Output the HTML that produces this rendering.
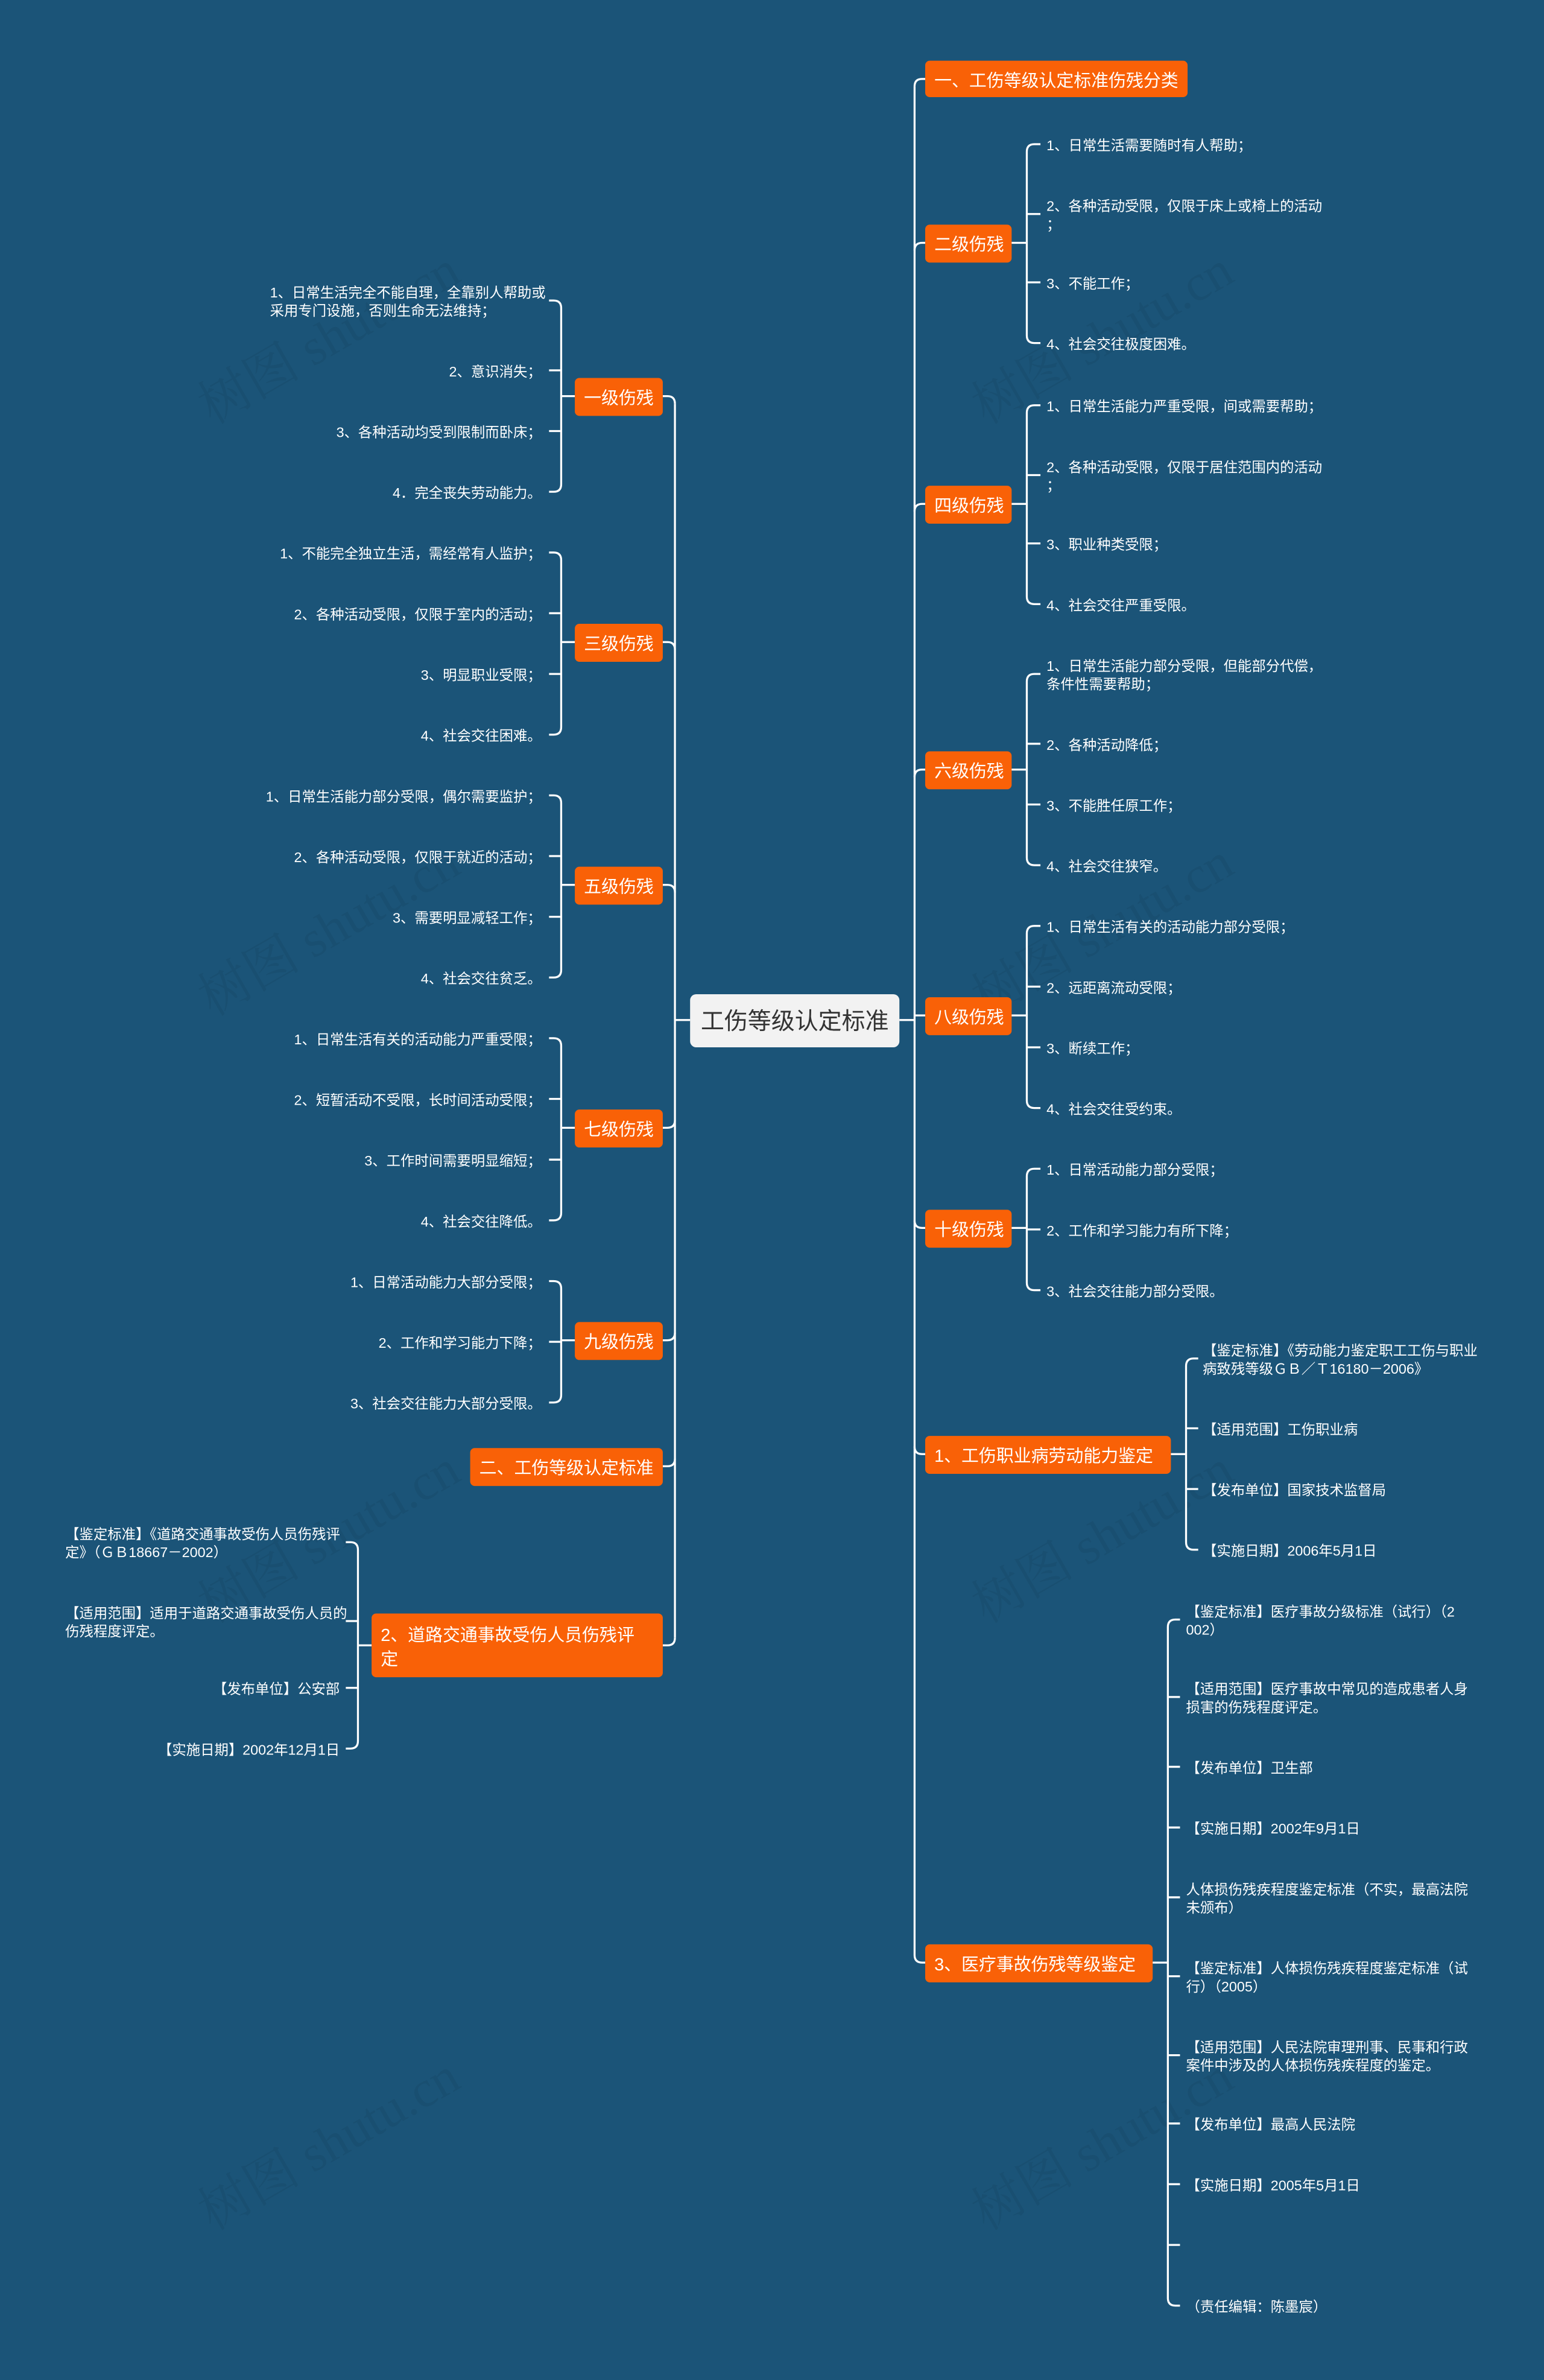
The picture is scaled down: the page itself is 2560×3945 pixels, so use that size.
<!DOCTYPE html>
<html><head><meta charset="utf-8"><style>
html,body{margin:0;padding:0;background:#1b5478;}
svg{display:block}
text{font-family:"Liberation Sans","Noto Sans CJK SC",sans-serif;}
.l{fill:#fff;font-size:9.3px;dominant-baseline:middle;transform:translateY(1.5px)}
.n{fill:#fff;font-size:11.5px;dominant-baseline:middle;transform:translateY(1px)}
.w{fill:rgba(0,0,0,0.05);font-size:34px;font-family:"Liberation Serif","Noto Serif CJK SC",serif}
path{fill:none;stroke:#fff;stroke-width:1.3}
rect.o{fill:#f96107}
</style></head><body>
<svg width="2560" height="3945" viewBox="0 0 1018 1568" preserveAspectRatio="none" xmlns="http://www.w3.org/2000/svg">
<rect width="1018" height="1568" fill="#1b5478"/>
<g class="wm">
<text class="w" x="140" y="280" transform="rotate(-30 140 280)">树图 shutu.cn</text>
<text class="w" x="650" y="280" transform="rotate(-30 650 280)">树图 shutu.cn</text>
<text class="w" x="140" y="670" transform="rotate(-30 140 670)">树图 shutu.cn</text>
<text class="w" x="650" y="670" transform="rotate(-30 650 670)">树图 shutu.cn</text>
<text class="w" x="140" y="1070" transform="rotate(-30 140 1070)">树图 shutu.cn</text>
<text class="w" x="650" y="1070" transform="rotate(-30 650 1070)">树图 shutu.cn</text>
<text class="w" x="140" y="1470" transform="rotate(-30 140 1470)">树图 shutu.cn</text>
<text class="w" x="650" y="1470" transform="rotate(-30 650 1470)">树图 shutu.cn</text>
</g>

<path d="M593,672 L603,672"/>
<path d="M603,57 L603,1288"/>
<path d="M603,57 Q603,52 608,52 L610,52"/>
<path d="M603,165 Q603,160 608,160 L610,160"/>
<path d="M603,337 Q603,332 608,332 L610,332"/>
<path d="M603,512 Q603,507 608,507 L610,507"/>
<path d="M603,669 L610,669"/>
<path d="M603,804 Q603,809 608,809 L610,809"/>
<path d="M603,953 Q603,958 608,958 L610,958"/>
<path d="M603,1288 Q603,1293 608,1293 L610,1293"/>

<path d="M455,672 L445,672"/>
<path d="M445,266 L445,1079"/>
<path d="M445,266 Q445,261 440,261 L437,261"/>
<path d="M445,428 Q445,423 440,423 L437,423"/>
<path d="M445,588 Q445,583 440,583 L437,583"/>
<path d="M445,738 Q445,743 440,743 L437,743"/>
<path d="M445,878 Q445,883 440,883 L437,883"/>
<path d="M445,961 Q445,966 440,966 L437,966"/>
<path d="M445,1079 Q445,1084 440,1084 L437,1084"/>

<rect x="455" y="655" width="138" height="35" rx="4" fill="#f2f2f2"/>
<text x="524" y="674" text-anchor="middle" style="font-size:15.5px;fill:#333;dominant-baseline:middle">工伤等级认定标准</text>

<rect class="o" x="610" y="40" width="173" height="24" rx="3"/><text class="n" x="616" y="53">一、工伤等级认定标准伤残分类</text>
<rect class="o" x="610" y="148" width="57" height="25" rx="3"/><text class="n" x="616" y="161">二级伤残</text>
<rect class="o" x="610" y="320" width="57" height="25" rx="3"/><text class="n" x="616" y="333">四级伤残</text>
<rect class="o" x="610" y="495" width="57" height="25" rx="3"/><text class="n" x="616" y="508">六级伤残</text>
<rect class="o" x="610" y="657" width="57" height="25" rx="3"/><text class="n" x="616" y="670">八级伤残</text>
<rect class="o" x="610" y="797" width="57" height="25" rx="3"/><text class="n" x="616" y="810">十级伤残</text>
<rect class="o" x="610" y="946" width="162" height="25" rx="3"/><text class="n" x="616" y="959">1、工伤职业病劳动能力鉴定</text>
<rect class="o" x="610" y="1281" width="150" height="25" rx="3"/><text class="n" x="616" y="1294">3、医疗事故伤残等级鉴定</text>

<rect class="o" x="379" y="249" width="58" height="25" rx="3"/><text class="n" x="385" y="262">一级伤残</text>
<rect class="o" x="379" y="411" width="58" height="25" rx="3"/><text class="n" x="385" y="424">三级伤残</text>
<rect class="o" x="379" y="571" width="58" height="25" rx="3"/><text class="n" x="385" y="584">五级伤残</text>
<rect class="o" x="379" y="731" width="58" height="25" rx="3"/><text class="n" x="385" y="744">七级伤残</text>
<rect class="o" x="379" y="871" width="58" height="25" rx="3"/><text class="n" x="385" y="884">九级伤残</text>
<rect class="o" x="310" y="954" width="127" height="25" rx="3"/><text class="n" x="316" y="967">二、工伤等级认定标准</text>
<rect class="o" x="245" y="1063" width="192" height="42" rx="3"/><text class="n" x="251" y="1077">2、道路交通事故受伤人员伤残评</text><text class="n" x="251" y="1093">定</text>

<path d="M667,160 L677,160 M677,100 L677,221 M677,100 Q677,95 682,95 L686,95 M677,141 L686,141 M677,186 L686,186 M677,221 Q677,226 682,226 L686,226"/>
<text class="l" x="690" y="95">1、日常生活需要随时有人帮助；</text>
<text class="l" x="690" y="135">2、各种活动受限，仅限于床上或椅上的活动</text>
<text class="l" x="690" y="147">；</text>
<text class="l" x="690" y="186">3、不能工作；</text>
<text class="l" x="690" y="226">4、社会交往极度困难。</text>

<path d="M667,332 L677,332 M677,272 L677,393 M677,272 Q677,267 682,267 L686,267 M677,313 L686,313 M677,358 L686,358 M677,393 Q677,398 682,398 L686,398"/>
<text class="l" x="690" y="267">1、日常生活能力严重受限，间或需要帮助；</text>
<text class="l" x="690" y="307">2、各种活动受限，仅限于居住范围内的活动</text>
<text class="l" x="690" y="319">；</text>
<text class="l" x="690" y="358">3、职业种类受限；</text>
<text class="l" x="690" y="398">4、社会交往严重受限。</text>

<path d="M667,507 L677,507 M677,449 L677,565 M677,449 Q677,444 682,444 L686,444 M677,490 L686,490 M677,530 L686,530 M677,565 Q677,570 682,570 L686,570"/>
<text class="l" x="690" y="438">1、日常生活能力部分受限，但能部分代偿，</text>
<text class="l" x="690" y="450">条件性需要帮助；</text>
<text class="l" x="690" y="490">2、各种活动降低；</text>
<text class="l" x="690" y="530">3、不能胜任原工作；</text>
<text class="l" x="690" y="570">4、社会交往狭窄。</text>

<path d="M667,669 L677,669 M677,615 L677,725 M677,615 Q677,610 682,610 L686,610 M677,650 L686,650 M677,690 L686,690 M677,725 Q677,730 682,730 L686,730"/>
<text class="l" x="690" y="610">1、日常生活有关的活动能力部分受限；</text>
<text class="l" x="690" y="650">2、远距离流动受限；</text>
<text class="l" x="690" y="690">3、断续工作；</text>
<text class="l" x="690" y="730">4、社会交往受约束。</text>

<path d="M667,809 L677,809 M677,775 L677,845 M677,775 Q677,770 682,770 L686,770 M677,810 L686,810 M677,845 Q677,850 682,850 L686,850"/>
<text class="l" x="690" y="770">1、日常活动能力部分受限；</text>
<text class="l" x="690" y="810">2、工作和学习能力有所下降；</text>
<text class="l" x="690" y="850">3、社会交往能力部分受限。</text>

<path d="M772,958 L782,958 M782,900 L782,1016 M782,900 Q782,895 787,895 L790,895 M782,941 L790,941 M782,981 L790,981 M782,1016 Q782,1021 787,1021 L790,1021"/>
<text class="l" x="793" y="889">【鉴定标准】《劳动能力鉴定职工工伤与职业</text>
<text class="l" x="793" y="901">病致残等级ＧＢ／Ｔ16180－2006》</text>
<text class="l" x="793" y="941">【适用范围】工伤职业病</text>
<text class="l" x="793" y="981">【发布单位】国家技术监督局</text>
<text class="l" x="793" y="1021">【实施日期】2006年5月1日</text>

<path d="M760,1293 L770,1293 M770,1072 L770,1514 M770,1072 Q770,1067 775,1067 L778,1067 M770,1118 L778,1118 M770,1164 L778,1164 M770,1204 L778,1204 M770,1250 L778,1250 M770,1302 L778,1302 M770,1354 L778,1354 M770,1399 L778,1399 M770,1439 L778,1439 M770,1479 L778,1479 M770,1514 Q770,1519 775,1519 L778,1519"/>
<text class="l" x="782" y="1061">【鉴定标准】医疗事故分级标准（试行）（2</text>
<text class="l" x="782" y="1073">002）</text>
<text class="l" x="782" y="1112">【适用范围】医疗事故中常见的造成患者人身</text>
<text class="l" x="782" y="1124">损害的伤残程度评定。</text>
<text class="l" x="782" y="1164">【发布单位】卫生部</text>
<text class="l" x="782" y="1204">【实施日期】2002年9月1日</text>
<text class="l" x="782" y="1244">人体损伤残疾程度鉴定标准（不实，最高法院</text>
<text class="l" x="782" y="1256">未颁布）</text>
<text class="l" x="782" y="1296">【鉴定标准】人体损伤残疾程度鉴定标准（试</text>
<text class="l" x="782" y="1308">行）（2005）</text>
<text class="l" x="782" y="1348">【适用范围】人民法院审理刑事、民事和行政</text>
<text class="l" x="782" y="1360">案件中涉及的人体损伤残疾程度的鉴定。</text>
<text class="l" x="782" y="1399">【发布单位】最高人民法院</text>
<text class="l" x="782" y="1439">【实施日期】2005年5月1日</text>
<text class="l" x="782" y="1519">（责任编辑：陈墨宸）</text>

<path d="M379,261 L370,261 M370,203 L370,319 M370,203 Q370,198 365,198 L362,198 M370,244 L362,244 M370,284 L362,284 M370,319 Q370,324 365,324 L362,324"/>
<text class="l" x="178" y="192">1、日常生活完全不能自理，全靠别人帮助或</text>
<text class="l" x="178" y="204">采用专门设施，否则生命无法维持；</text>
<text class="l" x="357" y="244" text-anchor="end">2、意识消失；</text>
<text class="l" x="357" y="284" text-anchor="end">3、各种活动均受到限制而卧床；</text>
<text class="l" x="357" y="324" text-anchor="end">4．完全丧失劳动能力。</text>

<path d="M379,423 L370,423 M370,369 L370,479 M370,369 Q370,364 365,364 L362,364 M370,404 L362,404 M370,444 L362,444 M370,479 Q370,484 365,484 L362,484"/>
<text class="l" x="357" y="364" text-anchor="end">1、不能完全独立生活，需经常有人监护；</text>
<text class="l" x="357" y="404" text-anchor="end">2、各种活动受限，仅限于室内的活动；</text>
<text class="l" x="357" y="444" text-anchor="end">3、明显职业受限；</text>
<text class="l" x="357" y="484" text-anchor="end">4、社会交往困难。</text>

<path d="M379,583 L370,583 M370,529 L370,639 M370,529 Q370,524 365,524 L362,524 M370,564 L362,564 M370,604 L362,604 M370,639 Q370,644 365,644 L362,644"/>
<text class="l" x="357" y="524" text-anchor="end">1、日常生活能力部分受限，偶尔需要监护；</text>
<text class="l" x="357" y="564" text-anchor="end">2、各种活动受限，仅限于就近的活动；</text>
<text class="l" x="357" y="604" text-anchor="end">3、需要明显减轻工作；</text>
<text class="l" x="357" y="644" text-anchor="end">4、社会交往贫乏。</text>

<path d="M379,743 L370,743 M370,689 L370,799 M370,689 Q370,684 365,684 L362,684 M370,724 L362,724 M370,764 L362,764 M370,799 Q370,804 365,804 L362,804"/>
<text class="l" x="357" y="684" text-anchor="end">1、日常生活有关的活动能力严重受限；</text>
<text class="l" x="357" y="724" text-anchor="end">2、短暂活动不受限，长时间活动受限；</text>
<text class="l" x="357" y="764" text-anchor="end">3、工作时间需要明显缩短；</text>
<text class="l" x="357" y="804" text-anchor="end">4、社会交往降低。</text>

<path d="M379,883 L370,883 M370,849 L370,919 M370,849 Q370,844 365,844 L362,844 M370,884 L362,884 M370,919 Q370,924 365,924 L362,924"/>
<text class="l" x="357" y="844" text-anchor="end">1、日常活动能力大部分受限；</text>
<text class="l" x="357" y="884" text-anchor="end">2、工作和学习能力下降；</text>
<text class="l" x="357" y="924" text-anchor="end">3、社会交往能力大部分受限。</text>

<path d="M245,1084 L236,1084 M236,1021 L236,1147 M236,1021 Q236,1016 231,1016 L228,1016 M236,1068 L228,1068 M236,1112 L228,1112 M236,1147 Q236,1152 231,1152 L228,1152"/>
<text class="l" x="43" y="1010">【鉴定标准】《道路交通事故受伤人员伤残评</text>
<text class="l" x="43" y="1022">定》（ＧＢ18667－2002）</text>
<text class="l" x="43" y="1062">【适用范围】适用于道路交通事故受伤人员的</text>
<text class="l" x="43" y="1074">伤残程度评定。</text>
<text class="l" x="224" y="1112" text-anchor="end">【发布单位】公安部</text>
<text class="l" x="224" y="1152" text-anchor="end">【实施日期】2002年12月1日</text>
</svg>
</body></html>
